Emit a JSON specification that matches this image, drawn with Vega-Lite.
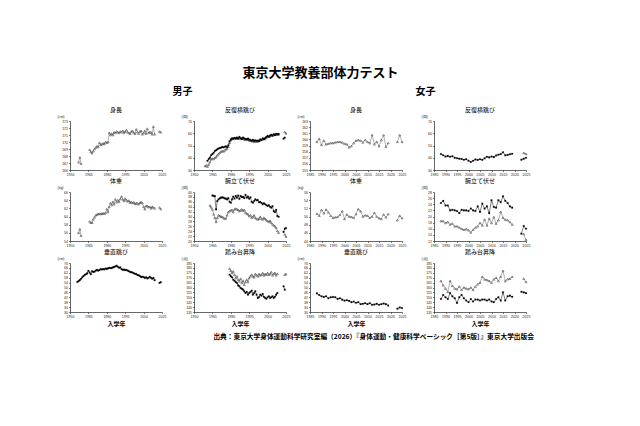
{
"$schema":"https://vega.github.io/schema/vega-lite/v6.json",
"background":"white",
"padding":{"left":57,"top":66,"right":5,"bottom":5},
"config":{
 "view":{"stroke":null},
 "font":"Noto Sans CJK JP",
 "mark":{"invalid":"break-paths-filter-domains"},
 "axis":{"grid":false,"domainColor":"#000","domainWidth":0.6,"tickColor":"#000","tickWidth":0.5,"tickSize":1.5,"labelFontSize":3.5,"labelFont":"Liberation Sans","labelColor":"#222","labelPadding":1,"labelFlush":false,"labelOverlap":false,"titleFontSize":3.5,"titleFontWeight":"normal","titleFont":"Liberation Sans","titleColor":"#222"},
 "axisY":{"titleAngle":0,"titleAlign":"left","titleBaseline":"middle","titleX":-13,"titleY":-5},
 "axisX":{"titleFontSize":6,"titleFontWeight":"bold","titleFont":"Noto Sans CJK JP","titlePadding":2,"titleColor":"#000"},
 "title":{"fontSize":6,"fontWeight":"normal","offset":1.5,"color":"#000","font":"Noto Sans CJK JP"}
},
"data":{"values":[
{"yr":1956,"mj":54.6},
{"yr":1957,"mh":167.1,"mw":56.0,"mj":55.2},
{"yr":1958,"mh":167.8,"mw":56.9,"mj":56.0},
{"yr":1959,"mh":166.9,"mw":55.3,"mj":57.1,"ms2":33.3},
{"yr":1960,"mj":58.3,"ms2":33.8},
{"yr":1961,"mj":59.4,"ms1":37.5,"ms2":32.7},
{"yr":1962,"mj":60.2,"ms1":39.0,"ms2":34.5},
{"yr":1963,"mj":60.8,"ms1":40.1,"ms2":36.5,"mp2":34.5},
{"yr":1964,"mj":61.5,"ms1":42.0,"ms2":38.7,"mp2":33.8},
{"yr":1965,"mj":63.6,"ms1":43.0,"ms2":39.3,"mp1":38.6,"mp2":32.9},
{"yr":1966,"mh":168.9,"mw":58.8,"mj":62.2,"ms1":44.1,"ms2":39.0,"mp1":38.4,"mp2":30.9},
{"yr":1967,"mh":168.6,"mw":58.5,"mj":60.8,"ms1":45.5,"ms2":40.1,"mp1":38.3,"mp2":29.5},
{"yr":1968,"mh":168.4,"mw":58.5,"mj":63.3,"ms1":46.1,"ms2":40.5,"mp1":32.9,"mp2":27.8},
{"yr":1969,"mh":168.7,"mw":59.3,"mj":62.7,"ms1":46.9,"ms2":42.0,"mp1":36.3,"mp2":29.5},
{"yr":1970,"mh":169.0,"mw":59.8,"mj":63.0,"ms1":47.5,"ms2":43.0,"mp1":37.0,"mp2":30.5},
{"yr":1971,"mh":169.2,"mw":60.3,"mj":63.8,"ms1":48.0,"ms2":44.1,"mp1":37.4,"mp2":30.2},
{"yr":1972,"mh":169.4,"mw":60.5,"mj":64.4,"ms1":48.2,"ms2":45.0,"mp1":37.7,"mp2":30.0},
{"yr":1973,"mh":169.3,"mw":60.6,"mj":63.8,"ms1":48.8,"ms2":45.5,"mp1":37.8,"mp2":29.9},
{"yr":1974,"mh":169.9,"mw":60.7,"mj":64.2,"ms1":48.5,"ms2":45.2,"mp1":37.7,"mp2":29.5},
{"yr":1975,"mh":169.6,"mw":60.6,"mj":65.0,"ms1":49.0,"ms2":46.0,"mp1":37.4,"mp2":29.1},
{"yr":1976,"mh":169.7,"mw":60.7,"mj":64.7,"ms1":49.3,"ms2":46.9,"mp1":37.3,"mp2":29.3},
{"yr":1977,"mh":169.8,"mw":60.8,"mj":65.0,"ms1":48.8,"ms2":47.5,"mp1":37.0,"mp2":30.5},
{"yr":1978,"mh":169.7,"mw":60.7,"mj":64.8,"ms1":50.1,"ms2":49.0,"mp1":37.5,"mp2":31.8},
{"yr":1979,"mh":170.0,"mw":60.9,"mj":65.5,"ms1":53.5,"ms2":52.3,"mp1":36.0,"mp2":32.2,"mt1":173.1,"mt2":179.2},
{"yr":1980,"mh":169.9,"mw":61.8,"mj":65.2,"ms1":55.0,"ms2":54.5,"mp1":35.6,"mp2":32.5,"mt1":171.4,"mt2":177.2},
{"yr":1981,"mh":170.0,"mw":61.1,"mj":65.6,"ms1":55.9,"ms2":55.2,"mp1":37.0,"mp2":32.7,"mt1":170.4,"mt2":174.8},
{"yr":1982,"mh":171.3,"mw":62.4,"mj":66.1,"ms1":55.5,"ms2":55.9,"mp1":38.1,"mp2":31.8,"mt1":168.0,"mt2":176.5},
{"yr":1983,"mh":171.0,"mw":63.3,"mj":65.8,"ms1":56.2,"ms2":55.5,"mp1":37.3,"mp2":32.9,"mt1":167.0,"mt2":173.1},
{"yr":1984,"mh":171.2,"mw":62.8,"mj":66.0,"ms1":55.8,"ms2":56.3,"mp1":38.4,"mp2":33.2,"mt1":165.6,"mt2":169.7},
{"yr":1985,"mh":171.0,"mw":63.6,"mj":66.4,"ms1":56.4,"ms2":55.7,"mp1":37.7,"mp2":33.0,"mt1":164.6,"mt2":171.4},
{"yr":1986,"mh":171.4,"mw":63.0,"mj":66.8,"ms1":55.6,"ms2":56.0,"mp1":38.6,"mp2":32.7,"mt1":162.2,"mt2":168.0},
{"yr":1987,"mh":171.3,"mw":64.2,"mj":67.2,"ms1":57.0,"ms2":56.2,"mp1":37.2,"mp2":32.2,"mt1":161.2,"mt2":166.3},
{"yr":1988,"mh":171.5,"mw":63.5,"mj":67.8,"ms1":56.0,"ms2":55.4,"mp1":38.4,"mp2":32.5,"mt1":159.5,"mt2":169.0,"fh":159.6,"fw":50.7,"fj":45.2,"fs1":43.0,"fp1":24.4,"fp2":18.5,"ft1":148.3,"ft2":166.7},
{"yr":1989,"mh":171.4,"mw":64.0,"mj":66.9,"ms1":55.4,"ms2":55.9,"mp1":37.9,"mp2":32.9,"mt1":158.8,"mt2":164.6,"fh":160.1,"fw":50.2,"fj":43.9,"fs1":42.0,"fp1":25.1,"fp2":18.5,"ft1":152.3,"ft2":162.3},
{"yr":1990,"mh":171.3,"mw":63.6,"mj":66.1,"ms1":56.5,"ms2":55.6,"mp1":38.0,"mp2":32.4,"mt1":157.8,"mt2":167.0,"fh":159.1,"fw":51.6,"fj":42.8,"fs1":41.0,"fp1":23.6,"fp2":17.9,"ft1":150.0,"ft2":159.0},
{"yr":1991,"mh":171.5,"mw":64.3,"mj":66.4,"ms1":55.8,"ms2":55.0,"mp1":37.5,"mp2":32.7,"mt1":156.1,"mt2":162.9,"fh":159.8,"fw":50.8,"fj":42.3,"fs1":41.5,"fp1":23.6,"fp2":18.2,"ft1":148.3,"ft2":155.7},
{"yr":1992,"mh":171.4,"mw":64.9,"mj":65.0,"ms1":55.2,"ms2":54.6,"mp1":38.8,"mp2":31.6,"mt1":154.4,"mt2":165.6,"fh":159.2,"fw":51.7,"fj":42.8,"fs1":40.8,"fp1":22.0,"fp2":17.4,"ft1":154.3,"ft2":166.7},
{"yr":1993,"mh":171.6,"mw":64.2,"mj":64.4,"ms1":55.0,"ms2":55.3,"mp1":37.7,"mp2":31.2,"mt1":155.5,"mt2":168.0,"fh":159.3,"fw":51.0,"fj":41.2,"fs1":41.2,"fp1":22.2,"fp2":17.7,"ft1":151.0,"ft2":161.7},
{"yr":1994,"mh":171.3,"mw":63.8,"mj":64.6,"ms1":55.6,"ms2":54.8,"mp1":38.1,"mp2":30.9,"mt1":152.7,"mt2":165.6,"fh":159.4,"fw":50.2,"fj":42.0,"fs1":40.0,"fp1":22.0,"fp2":16.8,"ft1":149.0,"ft2":159.0},
{"yr":1995,"mh":171.5,"mw":64.4,"mj":64.1,"ms1":54.8,"ms2":54.2,"mp1":37.3,"mp2":30.2,"mt1":154.4,"mt2":169.7,"fh":159.4,"fw":49.7,"fj":42.3,"fs1":39.6,"fp1":21.8,"fp2":16.8,"ft1":144.3,"ft2":158.3},
{"yr":1996,"mh":171.7,"mw":64.0,"mj":64.4,"ms1":54.5,"ms2":54.0,"mp1":37.8,"mp2":30.5,"mt1":155.4,"mt2":171.4,"fh":159.5,"fw":49.8,"fj":42.0,"fs1":39.2,"fp1":21.1,"fp2":16.4,"ft1":150.0,"ft2":161.0},
{"yr":1997,"mh":171.4,"mw":63.7,"mj":63.8,"ms1":53.9,"ms2":53.5,"mp1":36.0,"mp2":29.5,"mt1":156.8,"mt2":173.1,"fh":159.6,"fw":49.9,"fj":40.7,"fs1":39.0,"fp1":22.2,"fp2":16.0,"ft1":152.3,"ft2":157.7},
{"yr":1998,"mh":171.3,"mw":63.9,"mj":63.3,"ms1":54.6,"ms2":53.9,"mp1":35.6,"mp2":29.9,"mt1":152.7,"mt2":171.4,"fh":159.6,"fw":50.4,"fj":41.2,"fs1":38.4,"fp1":22.0,"fp2":15.7,"ft1":149.0,"ft2":160.0},
{"yr":1999,"mh":171.2,"mw":63.4,"mj":62.7,"ms1":53.7,"ms2":53.0,"mp1":36.3,"mp2":30.5,"mt1":154.4,"mt2":170.4,"fh":159.5,"fw":51.3,"fj":40.1,"fs1":38.8,"fp1":22.0,"fp2":15.9,"ft1":146.7,"ft2":159.0},
{"yr":2000,"mh":171.5,"mw":63.6,"mj":62.5,"ms1":54.2,"ms2":53.6,"mp1":37.0,"mp2":29.5,"mt1":156.1,"mt2":173.8,"fh":159.3,"fw":49.4,"fj":39.3,"fs1":37.6,"fp1":21.8,"fp2":15.5,"ft1":145.0,"ft2":158.3},
{"yr":2001,"mh":171.6,"mw":63.3,"mj":62.2,"ms1":53.8,"ms2":53.2,"mp1":36.6,"mp2":29.1,"mt1":152.7,"mt2":172.4,"fh":159.2,"fw":50.5,"fj":39.6,"fs1":36.5,"fp1":22.6,"fp2":14.8,"ft1":148.3,"ft2":160.0},
{"yr":2002,"mh":171.3,"mw":63.5,"mj":61.6,"ms1":54.0,"ms2":53.4,"mp1":36.7,"mp2":28.8,"mt1":149.3,"mt2":171.4,"fh":158.7,"fw":50.0,"fj":39.1,"fs1":37.5,"fp1":22.0,"fp2":15.7,"ft1":145.7,"ft2":157.7},
{"yr":2003,"mh":171.2,"mw":63.1,"mj":61.2,"ms1":53.6,"ms2":54.0,"mp1":35.8,"mp2":29.1,"mt1":150.0,"mt2":173.8,"fh":158.9,"fw":49.9,"fj":38.0,"fs1":38.6,"fp1":21.8,"fp2":16.4,"ft1":147.7,"ft2":161.0},
{"yr":2004,"mh":171.8,"mw":63.3,"mj":61.0,"ms1":55.0,"ms2":54.2,"mp1":35.9,"mp2":29.9,"mt1":152.7,"mt2":172.4,"fh":159.4,"fw":49.7,"fj":38.5,"fs1":38.2,"fp1":23.3,"fp2":16.8,"ft1":147.7,"ft2":163.3},
{"yr":2005,"mh":171.4,"mw":63.2,"mj":60.2,"ms1":54.5,"ms2":54.8,"mp1":35.6,"mp2":29.1,"mt1":151.7,"mt2":173.1,"fh":159.8,"fw":50.6,"fj":37.5,"fs1":38.8,"fp1":21.5,"fp2":17.9,"ft1":146.7,"ft2":165.0},
{"yr":2006,"mh":171.2,"mw":63.0,"mj":59.9,"ms1":55.8,"ms2":55.1,"mp1":35.0,"mp2":28.8,"mt1":153.4,"mt2":174.8,"fh":159.9,"fw":51.8,"fj":38.0,"fs1":38.3,"fp1":24.2,"fp2":17.1,"ft1":147.7,"ft2":171.0},
{"yr":2007,"mh":171.5,"mw":63.4,"mj":59.4,"ms1":55.2,"ms2":55.6,"mp1":35.4,"mp2":29.5,"mt1":150.5,"mt2":172.4,"fh":159.8,"fw":51.3,"fj":36.4,"fs1":39.5,"fp1":22.6,"fp2":19.0,"ft1":147.7,"ft2":168.3},
{"yr":2008,"mh":171.6,"mw":63.5,"mj":58.5,"ms1":56.0,"ms2":55.3,"mp1":35.0,"mp2":29.1,"mt1":149.3,"mt2":173.8,"fh":159.5,"fw":50.0,"fj":36.7,"fs1":40.8,"fp1":23.3,"fp2":17.1,"ft1":146.7,"ft2":167.7},
{"yr":2009,"mh":171.1,"mw":63.3,"mj":58.8,"ms1":57.0,"ms2":56.5,"mp1":34.6,"mp2":28.5,"mt1":148.6,"mt2":173.1,"fh":159.9,"fw":50.3,"fj":37.2,"fs1":40.3,"fp1":21.1,"fp2":19.3,"ft1":147.7,"ft2":166.7},
{"yr":2010,"mh":171.3,"mw":62.4,"mj":58.6,"ms1":57.8,"ms2":57.1,"mp1":34.3,"mp2":28.2,"mt1":150.0,"mt2":174.8,"fh":159.6,"fw":50.2,"fj":36.4,"fs1":41.0,"fp1":25.3,"fp2":17.9,"ft1":145.7,"ft2":165.0},
{"yr":2011,"mh":171.6,"mw":61.8,"mj":57.7,"ms1":57.2,"ms2":57.5,"mp1":34.6,"mp2":27.8,"mt1":151.0,"mt2":173.1,"fh":159.4,"fw":49.7,"fj":37.2,"fs1":40.5,"fp1":23.1,"fp2":19.8,"ft1":145.0,"ft2":168.3},
{"yr":2012,"mh":171.2,"mw":62.6,"mj":58.3,"ms1":58.2,"ms2":57.6,"mp1":34.0,"mp2":28.3,"mt1":149.3,"mt2":173.8,"fh":160.7,"fw":50.0,"fj":35.9,"fs1":41.8,"fp1":22.9,"fp2":17.7,"ft1":148.3,"ft2":170.0},
{"yr":2013,"mh":171.9,"mw":62.6,"mj":57.4,"ms1":58.8,"ms2":58.3,"mp1":33.6,"mp2":27.5,"mt1":150.0,"mt2":175.8,"fh":159.2,"fw":50.9,"fj":36.1,"fs1":42.5,"fp1":25.3,"fp2":18.8,"ft1":150.0,"ft2":166.7},
{"yr":2014,"mh":171.3,"mw":62.3,"mj":57.9,"ms1":58.0,"ms2":58.5,"mp1":34.2,"mp2":26.8,"mt1":151.0,"mt2":172.4,"fh":159.6,"fw":50.0,"fj":36.7,"fs1":43.0,"fp1":24.7,"fp2":21.5,"ft1":146.7,"ft2":171.0},
{"yr":2015,"mh":171.4,"mw":62.4,"mj":58.8,"ms1":59.2,"ms2":58.6,"mp1":32.2,"mp2":26.4,"mt1":149.3,"mt2":173.8,"fh":158.9,"fw":49.6,"fj":35.9,"fs1":44.5,"fp1":26.6,"fp2":19.6,"ft1":155.0,"ft2":177.0},
{"yr":2016,"mh":171.4,"mw":62.0,"mj":58.0,"ms1":58.5,"ms2":58.9,"mp1":31.8,"mp2":26.0,"mt1":150.5,"mt2":175.0,"fh":159.9,"fw":49.4,"fj":36.4,"fs1":42.0,"fp1":25.1,"fp2":19.0,"ft1":146.7,"ft2":166.5},
{"yr":2017,"mh":171.1,"mw":62.4,"mj":57.2,"ms1":59.6,"ms2":59.1,"mp1":32.7,"mp2":25.4,"mt1":152.7,"mt2":172.5,"fh":160.7,"fw":50.5,"fj":36.9,"fs1":42.3,"fp1":24.4,"fp2":18.8,"ft1":151.0,"ft2":168.5},
{"yr":2018,"mh":172.2,"mw":62.2,"mj":57.8,"ms1":59.0,"ms2":59.4,"mp1":30.2,"mp2":24.1,"mt1":154.4,"mt2":174.0,"fh":158.8,"fw":49.8,"fj":36.4,"fs1":42.8,"fp1":23.3,"fp2":18.2,"ft1":151.7,"ft2":169.0},
{"yr":2019,"mh":171.1,"mw":62.0,"mj":56.0,"ms1":59.5,"ms2":59.0,"mp1":29.9,"mp2":23.4,"fh":159.4,"fw":50.6,"fj":35.3,"fs1":43.3,"fp1":22.9,"fp2":17.4,"ft1":150.5,"ft2":171.0},
{"yr":2020},
{"yr":2021},
{"yr":2022},
{"yr":2023,"mh":171.5,"mw":62.2,"mj":53.8,"ms1":55.6,"mp1":23.7,"mt1":161.2,"fh":159.6,"fw":49.1,"fj":32.7,"fs1":38.4,"fp1":14.4,"ft1":155.7},
{"yr":2024,"mh":171.4,"mw":61.8,"mj":54.3,"ms1":56.4,"ms2":61.0,"mp1":25.0,"mp2":22.7,"mt1":157.8,"mt2":173.1,"fh":160.7,"fw":50.2,"fj":33.7,"fs1":39.2,"fs2":44.0,"fp1":16.9,"fp2":14.3,"ft1":155.0,"ft2":169.0},
{"yr":2025,"ms2":59.9,"mp1":25.3,"mp2":21.8,"mt2":173.8,"fh":159.6,"fw":49.6,"fj":33.2,"fs1":40.0,"fs2":43.2,"fp1":16.0,"fp2":12.4,"ft1":154.3,"ft2":165.7}
]},
"title":{"text":"出典：東京大学身体運動科学研究室編（2026）『身体運動・健康科学ベーシック［第5版］』東京大学出版会","orient":"bottom","anchor":"end","fontSize":6.7,"fontWeight":"bold","offset":8,"dx":4},
"vconcat":[{
 "title":{"text":"東京大学教養部体力テスト","fontSize":13,"fontWeight":"bold","anchor":"middle","offset":7,"dx":27},
 "spacing":7,
 "hconcat":[
 {"title":{"text":"男子","fontSize":10,"fontWeight":"bold","anchor":"middle","offset":10,"dx":9},
  "columns":2,"spacing":{"row":22,"column":32},"bounds":"flush",
  "concat":[
   {"width":92,"height":49,"title":"身長",
    "mark":{"type":"line","color":"#666","strokeWidth":0.5,"point":{"shape":"triangle-up","size":4,"filled":true,"fill":"#fff","stroke":"#000","strokeWidth":0.4}},
    "encoding":{"x":{"field":"yr","type":"quantitative","scale":{"domain":[1950,2025],"nice":false},"axis":{"values":[1950,1965,1980,1995,2010,2025],"format":"d","title":null}},
     "y":{"field":"mh","type":"quantitative","scale":{"domain":[166,173],"zero":false,"nice":false},"axis":{"values":[166,167,168,169,170,171,172,173],"title":"(cm)"}}}},
   {"width":92,"height":49,"title":"反復横跳び",
    "layer":[
     {"mark":{"type":"line","color":"#666","strokeWidth":0.5,"point":{"shape":"triangle-up","size":4,"filled":true,"fill":"#fff","stroke":"#000","strokeWidth":0.4}},
      "encoding":{"x":{"field":"yr","type":"quantitative","scale":{"domain":[1950,2025],"nice":false},"axis":{"values":[1950,1965,1980,1995,2010,2025],"format":"d","title":null}},
       "y":{"field":"ms2","type":"quantitative","scale":{"domain":[30,70],"zero":false,"nice":false},"axis":{"values":[30,40,50,60,70],"title":"(回)"}}}},
     {"mark":{"type":"line","color":"#000","strokeWidth":0.5,"point":{"shape":"square","size":2.5,"filled":true,"fill":"#000","stroke":"#000","strokeWidth":0.2}},
      "encoding":{"x":{"field":"yr","type":"quantitative","scale":{"domain":[1950,2025],"nice":false},"axis":{"values":[1950,1965,1980,1995,2010,2025],"format":"d","title":null}},
       "y":{"field":"ms1","type":"quantitative","scale":{"domain":[30,70],"zero":false,"nice":false},"axis":{"values":[30,40,50,60,70],"title":"(回)"}}}}
    ]},
   {"width":92,"height":49,"title":"体重",
    "mark":{"type":"line","color":"#666","strokeWidth":0.5,"point":{"shape":"triangle-up","size":4,"filled":true,"fill":"#fff","stroke":"#000","strokeWidth":0.4}},
    "encoding":{"x":{"field":"yr","type":"quantitative","scale":{"domain":[1950,2025],"nice":false},"axis":{"values":[1950,1965,1980,1995,2010,2025],"format":"d","title":null}},
     "y":{"field":"mw","type":"quantitative","scale":{"domain":[54,66],"zero":false,"nice":false},"axis":{"values":[54,56,58,60,62,64,66],"title":"(kg)"}}}},
   {"width":92,"height":49,"title":"腕立て伏せ",
    "layer":[
     {"mark":{"type":"line","color":"#666","strokeWidth":0.5,"point":{"shape":"triangle-up","size":4,"filled":true,"fill":"#fff","stroke":"#000","strokeWidth":0.4}},
      "encoding":{"x":{"field":"yr","type":"quantitative","scale":{"domain":[1950,2025],"nice":false},"axis":{"values":[1950,1965,1980,1995,2010,2025],"format":"d","title":null}},
       "y":{"field":"mp2","type":"quantitative","scale":{"domain":[20,40],"zero":false,"nice":false},"axis":{"values":[20,22,24,26,28,30,32,34,36,38,40],"title":"(回)"}}}},
     {"mark":{"type":"line","color":"#000","strokeWidth":0.5,"point":{"shape":"square","size":2.5,"filled":true,"fill":"#000","stroke":"#000","strokeWidth":0.2}},
      "encoding":{"x":{"field":"yr","type":"quantitative","scale":{"domain":[1950,2025],"nice":false},"axis":{"values":[1950,1965,1980,1995,2010,2025],"format":"d","title":null}},
       "y":{"field":"mp1","type":"quantitative","scale":{"domain":[20,40],"zero":false,"nice":false},"axis":{"values":[20,22,24,26,28,30,32,34,36,38,40],"title":"(回)"}}}}
    ]},
   {"width":92,"height":49,"title":"垂直跳び",
    "mark":{"type":"line","color":"#000","strokeWidth":0.5,"point":{"shape":"square","size":2.5,"filled":true,"fill":"#000","stroke":"#000","strokeWidth":0.2}},
    "encoding":{"x":{"field":"yr","type":"quantitative","scale":{"domain":[1950,2025],"nice":false},"axis":{"values":[1950,1965,1980,1995,2010,2025],"format":"d","title":"入学年"}},
     "y":{"field":"mj","type":"quantitative","scale":{"domain":[30,70],"zero":false,"nice":false},"axis":{"values":[30,34,38,42,46,50,54,58,62,66,70],"title":"(cm)"}}}},
   {"width":92,"height":49,"title":"踏み台昇降",
    "layer":[
     {"mark":{"type":"line","color":"#666","strokeWidth":0.5,"point":{"shape":"triangle-up","size":4,"filled":true,"fill":"#fff","stroke":"#000","strokeWidth":0.4}},
      "encoding":{"x":{"field":"yr","type":"quantitative","scale":{"domain":[1950,2025],"nice":false},"axis":{"values":[1950,1965,1980,1995,2010,2025],"format":"d","title":"入学年"}},
       "y":{"field":"mt2","type":"quantitative","scale":{"domain":[135,185],"zero":false,"nice":false},"axis":{"values":[135,140,145,150,155,160,165,170,175,180,185],"title":"(点)"}}}},
     {"mark":{"type":"line","color":"#000","strokeWidth":0.5,"point":{"shape":"square","size":2.5,"filled":true,"fill":"#000","stroke":"#000","strokeWidth":0.2}},
      "encoding":{"x":{"field":"yr","type":"quantitative","scale":{"domain":[1950,2025],"nice":false},"axis":{"values":[1950,1965,1980,1995,2010,2025],"format":"d","title":"入学年"}},
       "y":{"field":"mt1","type":"quantitative","scale":{"domain":[135,185],"zero":false,"nice":false},"axis":{"values":[135,140,145,150,155,160,165,170,175,180,185],"title":"(点)"}}}}
    ]}
  ]},
 {"title":{"text":"女子","fontSize":10,"fontWeight":"bold","anchor":"middle","offset":10,"dx":12},
  "columns":2,"spacing":{"row":22,"column":32},"bounds":"flush",
  "concat":[
   {"width":92,"height":49,"title":"身長",
    "mark":{"type":"line","color":"#666","strokeWidth":0.5,"point":{"shape":"triangle-up","size":4,"filled":true,"fill":"#fff","stroke":"#000","strokeWidth":0.4}},
    "encoding":{"x":{"field":"yr","type":"quantitative","scale":{"domain":[1985,2025],"nice":false},"axis":{"values":[1985,1990,1995,2000,2005,2010,2015,2020,2025],"format":"d","title":null}},
     "y":{"field":"fh","type":"quantitative","scale":{"domain":[155,163],"zero":false,"nice":false},"axis":{"values":[155,156,157,158,159,160,161,162,163],"title":"(cm)"}}}},
   {"width":92,"height":49,"title":"反復横跳び",
    "layer":[
     {"mark":{"type":"line","color":"#666","strokeWidth":0.5,"point":{"shape":"triangle-up","size":4,"filled":true,"fill":"#fff","stroke":"#000","strokeWidth":0.4}},
      "encoding":{"x":{"field":"yr","type":"quantitative","scale":{"domain":[1985,2025],"nice":false},"axis":{"values":[1985,1990,1995,2000,2005,2010,2015,2020,2025],"format":"d","title":null}},
       "y":{"field":"fs2","type":"quantitative","scale":{"domain":[30,70],"zero":false,"nice":false},"axis":{"values":[30,40,50,60,70],"title":"(回)"}}}},
     {"mark":{"type":"line","color":"#000","strokeWidth":0.5,"point":{"shape":"square","size":2.5,"filled":true,"fill":"#000","stroke":"#000","strokeWidth":0.2}},
      "encoding":{"x":{"field":"yr","type":"quantitative","scale":{"domain":[1985,2025],"nice":false},"axis":{"values":[1985,1990,1995,2000,2005,2010,2015,2020,2025],"format":"d","title":null}},
       "y":{"field":"fs1","type":"quantitative","scale":{"domain":[30,70],"zero":false,"nice":false},"axis":{"values":[30,40,50,60,70],"title":"(回)"}}}}
    ]},
   {"width":92,"height":49,"title":"体重",
    "mark":{"type":"line","color":"#666","strokeWidth":0.5,"point":{"shape":"triangle-up","size":4,"filled":true,"fill":"#fff","stroke":"#000","strokeWidth":0.4}},
    "encoding":{"x":{"field":"yr","type":"quantitative","scale":{"domain":[1985,2025],"nice":false},"axis":{"values":[1985,1990,1995,2000,2005,2010,2015,2020,2025],"format":"d","title":null}},
     "y":{"field":"fw","type":"quantitative","scale":{"domain":[44,56],"zero":false,"nice":false},"axis":{"values":[44,46,48,50,52,54,56],"title":"(kg)"}}}},
   {"width":92,"height":49,"title":"腕立て伏せ",
    "layer":[
     {"mark":{"type":"line","color":"#666","strokeWidth":0.5,"point":{"shape":"triangle-up","size":4,"filled":true,"fill":"#fff","stroke":"#000","strokeWidth":0.4}},
      "encoding":{"x":{"field":"yr","type":"quantitative","scale":{"domain":[1985,2025],"nice":false},"axis":{"values":[1985,1990,1995,2000,2005,2010,2015,2020,2025],"format":"d","title":null}},
       "y":{"field":"fp2","type":"quantitative","scale":{"domain":[12,28],"zero":false,"nice":false},"axis":{"values":[12,14,16,18,20,22,24,26,28],"title":"(回)"}}}},
     {"mark":{"type":"line","color":"#000","strokeWidth":0.5,"point":{"shape":"square","size":2.5,"filled":true,"fill":"#000","stroke":"#000","strokeWidth":0.2}},
      "encoding":{"x":{"field":"yr","type":"quantitative","scale":{"domain":[1985,2025],"nice":false},"axis":{"values":[1985,1990,1995,2000,2005,2010,2015,2020,2025],"format":"d","title":null}},
       "y":{"field":"fp1","type":"quantitative","scale":{"domain":[12,28],"zero":false,"nice":false},"axis":{"values":[12,14,16,18,20,22,24,26,28],"title":"(回)"}}}}
    ]},
   {"width":92,"height":49,"title":"垂直跳び",
    "mark":{"type":"line","color":"#000","strokeWidth":0.5,"point":{"shape":"square","size":2.5,"filled":true,"fill":"#000","stroke":"#000","strokeWidth":0.2}},
    "encoding":{"x":{"field":"yr","type":"quantitative","scale":{"domain":[1985,2025],"nice":false},"axis":{"values":[1985,1990,1995,2000,2005,2010,2015,2020,2025],"format":"d","title":"入学年"}},
     "y":{"field":"fj","type":"quantitative","scale":{"domain":[30,70],"zero":false,"nice":false},"axis":{"values":[30,34,38,42,46,50,54,58,62,66,70],"title":"(cm)"}}}},
   {"width":92,"height":49,"title":"踏み台昇降",
    "layer":[
     {"mark":{"type":"line","color":"#666","strokeWidth":0.5,"point":{"shape":"triangle-up","size":4,"filled":true,"fill":"#fff","stroke":"#000","strokeWidth":0.4}},
      "encoding":{"x":{"field":"yr","type":"quantitative","scale":{"domain":[1985,2025],"nice":false},"axis":{"values":[1985,1990,1995,2000,2005,2010,2015,2020,2025],"format":"d","title":"入学年"}},
       "y":{"field":"ft2","type":"quantitative","scale":{"domain":[135,185],"zero":false,"nice":false},"axis":{"values":[135,140,145,150,155,160,165,170,175,180,185],"title":"(点)"}}}},
     {"mark":{"type":"line","color":"#000","strokeWidth":0.5,"point":{"shape":"square","size":2.5,"filled":true,"fill":"#000","stroke":"#000","strokeWidth":0.2}},
      "encoding":{"x":{"field":"yr","type":"quantitative","scale":{"domain":[1985,2025],"nice":false},"axis":{"values":[1985,1990,1995,2000,2005,2010,2015,2020,2025],"format":"d","title":"入学年"}},
       "y":{"field":"ft1","type":"quantitative","scale":{"domain":[135,185],"zero":false,"nice":false},"axis":{"values":[135,140,145,150,155,160,165,170,175,180,185],"title":"(点)"}}}}
    ]}
  ]}
 ]
}]
}
